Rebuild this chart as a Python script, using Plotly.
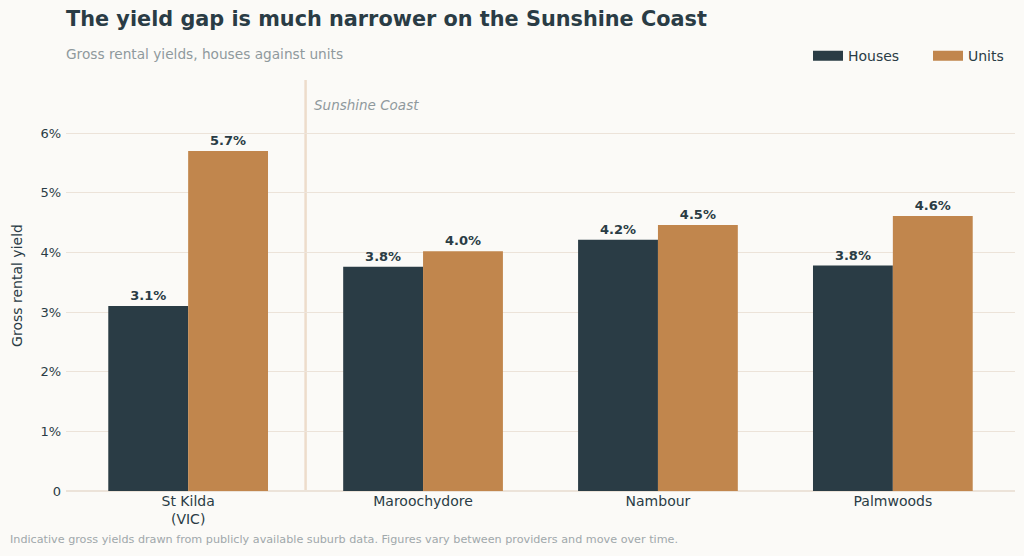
import plotly.graph_objects as go

suburbs = ["St Kilda<br>(VIC)", "Maroochydore", "Nambour", "Palmwoods"]
houses = [3.10, 3.76, 4.21, 3.78]
units = [5.70, 4.02, 4.46, 4.61]
y_ticks = [0, 1, 2, 3, 4, 5, 6]
y_tick_text = ["0", "1%", "2%", "3%", "4%", "5%", "6%"]

dark = "#2a3c45"
copper = "#c1864d"
grey = "#8f999d"
bg = "#fbfaf7"
grid = "#ece3d9"
font = "DejaVu Sans"

fig = go.Figure()
fig.add_bar(x=list(range(len(suburbs))), y=houses, name="Houses", showlegend=False,
            marker=dict(color=dark, line_width=0), texttemplate="<b>%{y:.1f}%</b>",
            textposition="outside", textfont=dict(size=13, color=dark),
            cliponaxis=False)
fig.add_bar(x=list(range(len(suburbs))), y=units, name="Units", showlegend=False,
            marker=dict(color=copper, line_width=0), texttemplate="<b>%{y:.1f}%</b>",
            textposition="outside", textfont=dict(size=13, color=dark),
            cliponaxis=False)
# wide legend swatches
for name, col in [("Houses", dark), ("Units", copper)]:
    fig.add_scatter(x=[None], y=[None], mode="lines", name=name,
                    line=dict(color=col, width=10))

# divider between Melbourne and the Sunshine Coast suburbs
fig.add_shape(type="line", xref="x", yref="paper", x0=0.5, x1=0.5, y0=0, y1=1,
              line=dict(color="#eddccb", width=2.5), layer="below")
fig.add_annotation(x=0.5, y=6.47, xref="x", yref="y", text="<i>Sunshine Coast</i>",
                   showarrow=False, xanchor="left", xshift=6,
                   font=dict(size=13.5, color=grey, family=font))

fig.update_layout(
    width=1024, height=556,
    paper_bgcolor=bg, plot_bgcolor=bg,
    font=dict(family=font, color=dark, size=13),
    barmode="group", bargap=0.32, bargroupgap=0,
    margin=dict(l=66, r=9, t=80, b=65, autoexpand=False),
    title=dict(text="<b>The yield gap is much narrower on the Sunshine Coast</b>",
               x=66/1024, xanchor="left", y=0.967, yanchor="middle",
               font=dict(size=20.8, color=dark, family=font)),
    legend=dict(orientation="h", xref="container", x=808/1024, xanchor="left",
                y=1.058, yanchor="middle",
                font=dict(size=14, color=dark), bgcolor="rgba(0,0,0,0)",
                traceorder="normal", entrywidth=75),
    showlegend=True,
)
fig.add_annotation(text="Gross rental yields, houses against units", xref="paper",
                   yref="paper", x=0, y=1.063, xanchor="left", yanchor="middle",
                   xshift=-2, showarrow=False, font=dict(size=13.7, color=grey))
fig.add_annotation(text="Indicative gross yields drawn from publicly available suburb data. "
                        "Figures vary between providers and move over time.",
                   xref="paper", yref="paper", x=-58/949, y=-0.119, xanchor="left",
                   yanchor="middle", showarrow=False, font=dict(size=11.2, color="#a0a8ab"))

fig.update_xaxes(tickvals=list(range(len(suburbs))), ticktext=suburbs,
                 range=[-0.52, 3.52], showgrid=False, zeroline=False,
                 showline=False, ticks="", tickfont=dict(size=14, color=dark))
fig.update_yaxes(range=[0, 6.89], tickvals=y_ticks, ticktext=y_tick_text,
                 showgrid=True, gridcolor=grid, gridwidth=1.2,
                 zeroline=True, zerolinecolor=grid, zerolinewidth=1.5,
                 ticks="", tickfont=dict(size=13, color=dark), ticklabelstandoff=4,
                 title=dict(text="Gross rental yield", font=dict(size=14, color=dark),
                            standoff=14))

fig.write_html("out.html", config={"displayModeBar": False},
               post_script="document.body.style.margin='0';")
